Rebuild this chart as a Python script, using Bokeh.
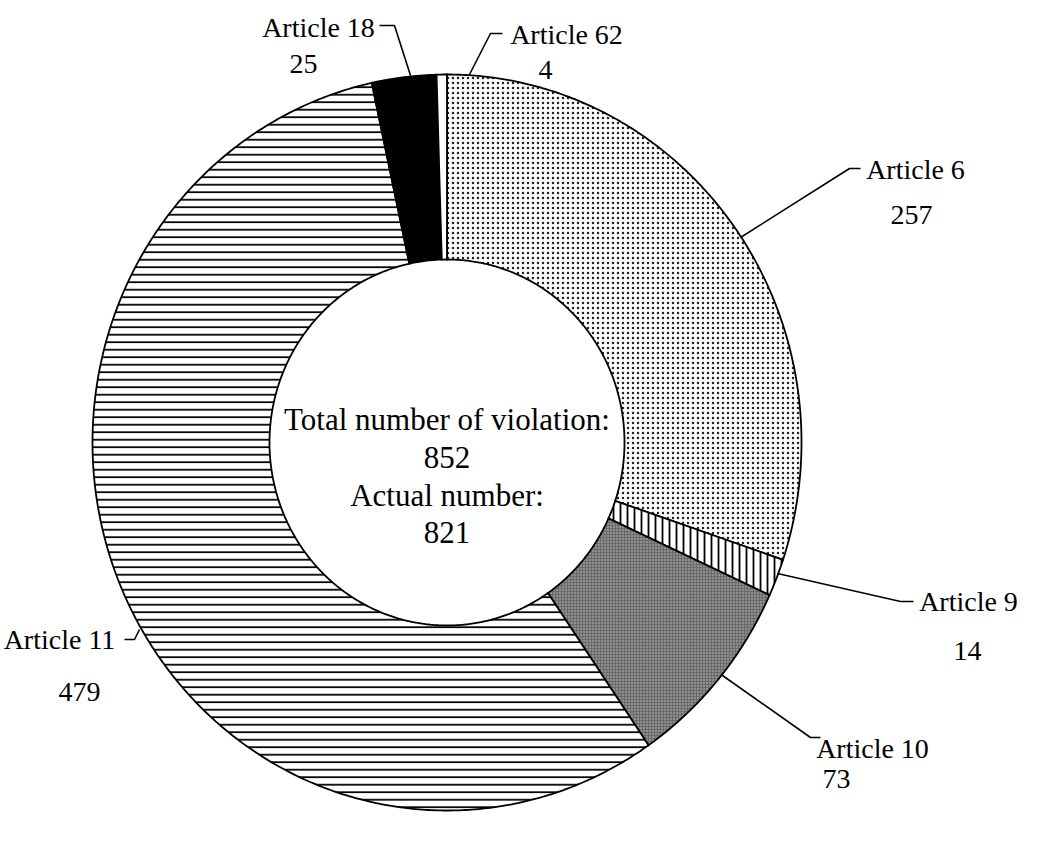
import numpy as np
from bokeh.plotting import figure
from bokeh.models import Range1d
from bokeh.core.properties import value
from bokeh.embed import file_html
from bokeh.resources import INLINE

# ---- data ----
articles = ["Article 6", "Article 9", "Article 10", "Article 11", "Article 18", "Article 62"]
counts = [257, 14, 73, 479, 25, 4]
center_lines = ["Total number of violation:", "852", "Actual number:", "821"]

# ---- layout (screen px, page coords) ----
PAGE_H = 844
W, H = 1021, 828
CX, CY = 454.5, 450.0
RX_OUT, RY_OUT = 354.5, 368.0
RX_IN, RY_IN = 177.5, 183.0

def Y(y):
    return PAGE_H - y

styles = [
    dict(fill_color="white", hatch_pattern="dot", hatch_scale=5, hatch_color="#222222", hatch_weight=1.5),
    dict(fill_color="white", hatch_pattern="vertical_line", hatch_scale=7, hatch_color="black", hatch_weight=1.8),
    dict(fill_color="#6a6a6a", hatch_pattern="dot", hatch_scale=3, hatch_color="#c4c4c4", hatch_weight=1.0),
    dict(fill_color="white", hatch_pattern="horizontal_line", hatch_scale=7.5, hatch_color="black", hatch_weight=1.8),
    dict(fill_color="black", hatch_pattern=None, hatch_scale=1, hatch_color="black", hatch_weight=1),
    dict(fill_color="white", hatch_pattern=None, hatch_scale=1, hatch_color="black", hatch_weight=1),
]

# label placement: (name center x, baseline y), (value center x, baseline y), leader points
label_layout = {
    "Article 6":  ((923, 177), (919, 222), [(748, 245), (857, 176), (868, 176)]),
    "Article 9":  ((976, 609), (975, 658), [(785, 581), (908, 609), (921, 609)]),
    "Article 10": ((880, 756), (844, 786), [(730, 683), (818, 745), (828, 745)]),
    "Article 11": ((67, 647),  (87, 699),  [(147, 637), (142, 647), (132, 647)]),
    "Article 18": ((326, 35),  (311, 71),  [(418, 83), (402, 33), (387, 33)]),
    "Article 62": ((574, 42),  (553, 77),  [(477, 82), (498, 41), (510, 41)]),
}

p = figure(width=W, height=H, output_backend="svg", toolbar_location=None,
           x_range=Range1d(8, 8 + W), y_range=Range1d(PAGE_H - 8 - H, PAGE_H - 8),
           min_border=0, x_axis_location=None, y_axis_location=None,
           outline_line_color=None)
p.grid.visible = False
p.background_fill_color = "white"
p.border_fill_color = "white"

total = float(sum(counts))
cum = np.concatenate([[0.0], np.cumsum(counts)]) / total
for i, name in enumerate(articles):
    t0, t1 = cum[i] * 2 * np.pi, cum[i + 1] * 2 * np.pi
    n = max(4, int((t1 - t0) / (2 * np.pi) * 720))
    th = np.linspace(t0, t1, n)
    xo = CX + RX_OUT * np.sin(th)
    yo = Y(CY) + RY_OUT * np.cos(th)
    xi = CX + RX_IN * np.sin(th[::-1])
    yi = Y(CY) + RY_IN * np.cos(th[::-1])
    xs = np.concatenate([xo, xi])
    ys = np.concatenate([yo, yi])
    st = styles[i]
    kw = dict(fill_color=st["fill_color"], line_color="black", line_width=1.8, line_join="miter")
    if st["hatch_pattern"]:
        kw.update(hatch_pattern=st["hatch_pattern"], hatch_scale=st["hatch_scale"],
                  hatch_color=st["hatch_color"], hatch_weight=st["hatch_weight"])
    p.patch(xs, ys, **kw)

# leader lines and labels
name_x, name_y, val_x, val_y, val_txt = [], [], [], [], []
for name, c in zip(articles, counts):
    (nx, ny), (vx, vy), pts = label_layout[name]
    p.line([q[0] for q in pts], [Y(q[1]) for q in pts], line_color="black", line_width=1.6)
    name_x.append(nx); name_y.append(Y(ny))
    val_x.append(vx); val_y.append(Y(vy)); val_txt.append(str(c))

font = value("Liberation Serif")
p.text(x=name_x, y=name_y, text=articles, text_font=font, text_font_size="28px",
       text_align="center", text_baseline="alphabetic", text_color="black")
p.text(x=val_x, y=val_y, text=val_txt, text_font=font, text_font_size="28px",
       text_align="center", text_baseline="alphabetic", text_color="black")

center_baselines = [427, 465, 503, 540]
p.text(x=[CX] * 4, y=[Y(b) for b in center_baselines], text=center_lines, text_font=font,
       text_font_size="31px", text_align="center", text_baseline="alphabetic", text_color="black")

open("out.html", "w").write(file_html(p, INLINE))
